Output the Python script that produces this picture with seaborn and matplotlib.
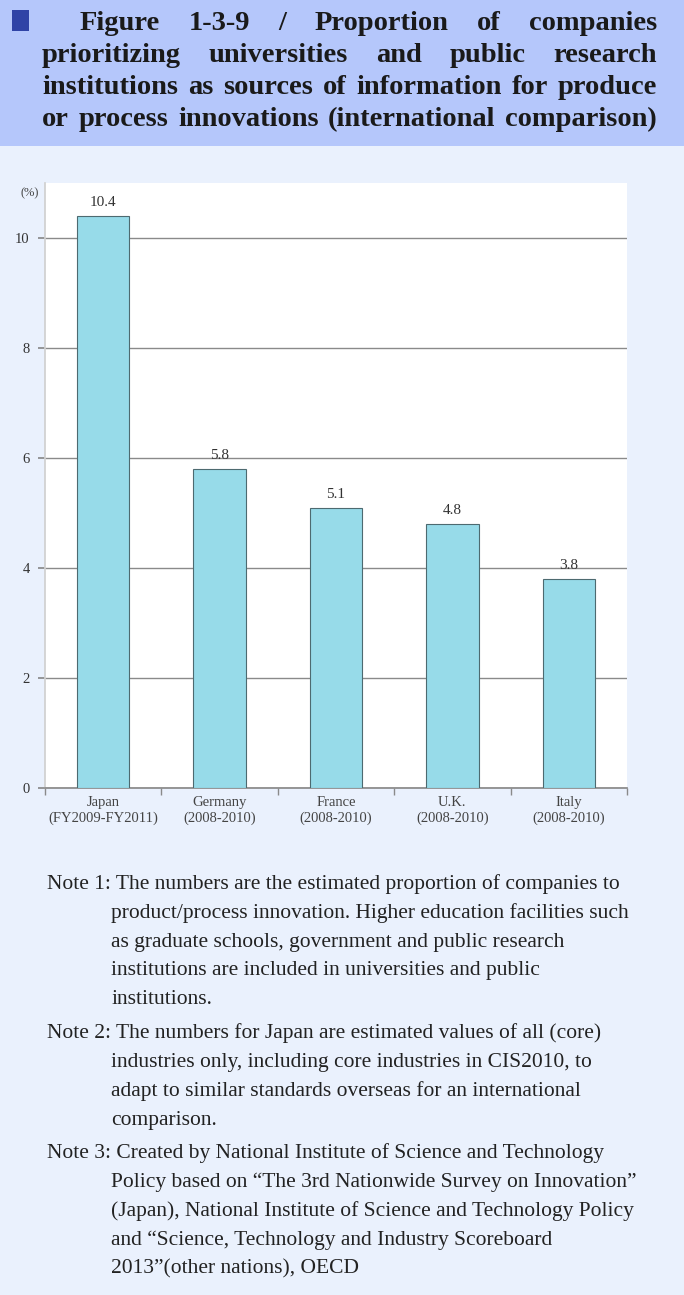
import matplotlib
matplotlib.use("Agg")
import matplotlib.pyplot as plt
import seaborn as sns
import pandas as pd
from matplotlib.patches import Rectangle

countries = ["Japan\n(FY2009-FY2011)", "Germany\n(2008-2010)", "France\n(2008-2010)",
             "U.K.\n(2008-2010)", "Italy\n(2008-2010)"]
shares = [10.4, 5.8, 5.1, 4.8, 3.8]
y_ticks = [0, 2, 4, 6, 8, 10]

title_lines = [
    ["Figure", "1-3-9", "/", "Proportion", "of", "companies"],
    ["prioritizing", "universities", "and", "public", "research"],
    ["institutions as sources of information for produce"],
    ["or process innovations (international comparison)"],
]

notes = [
    ("Note 1: ", ["The numbers are the estimated proportion of companies to",
                  "product/process innovation. Higher education facilities such",
                  "as graduate schools, government and public research",
                  "institutions are included in universities and public",
                  "institutions."]),
    ("Note 2: ", ["The numbers for Japan are estimated values of all (core)",
                  "industries only, including core industries in CIS2010, to",
                  "adapt to similar standards overseas for an international",
                  "comparison."]),
    ("Note 3: ", ["Created by National Institute of Science and Technology",
                  "Policy based on \u201cThe 3rd Nationwide Survey on Innovation\u201d",
                  "(Japan), National Institute of Science and Technology Policy",
                  "and \u201cScience, Technology and Industry Scoreboard",
                  "2013\u201d(other nations), OECD"]),
]

W, H = 684, 1295
BG = "#eaf1fd"
HEADER = "#b5c7fb"
BAR = "#97dbe9"
SERIF = ["Liberation Serif", "DejaVu Serif"]

sns.set_theme(style="white")
plt.rcParams["font.family"] = SERIF

fig = plt.figure(figsize=(W / 100, H / 100), dpi=100, facecolor=BG)


def fx(px):
    return px / W


def fy(py):
    return 1 - py / H


# header band
fig.patches.append(Rectangle((0, fy(146)), 1, 146 / H, transform=fig.transFigure,
                             facecolor=HEADER, edgecolor="none", zorder=0))
fig.patches.append(Rectangle((fx(12), fy(31)), 17 / W, 21 / H, transform=fig.transFigure,
                             facecolor="#2f43a6", edgecolor="none", zorder=1))

# justified title
fig.canvas.draw()
renderer = fig.canvas.get_renderer()
title_kw = dict(fontsize=20.5, fontweight="bold", color="#1a1a1a", va="baseline")
line_specs = [(80, 30), (42, 62), (42, 94), (42, 126)]
right_px = 657
for words, (x0, yb) in zip(title_lines, line_specs):
    if len(words) == 1:
        words = words[0].split(" ")
    arts = [fig.text(0, fy(yb), w, **title_kw) for w in words]
    widths = [a.get_window_extent(renderer).width for a in arts]
    gap = (right_px - x0 - sum(widths)) / (len(words) - 1)
    x = x0
    for a, wd in zip(arts, widths):
        a.set_x(fx(x))
        x += wd + gap

# chart
ax = fig.add_axes([fx(45), fy(788), fx(627) - fx(45), (788 - 183) / H])
ax.set_facecolor("white")
df = pd.DataFrame({"country": countries, "share": shares})
sns.barplot(data=df, x="country", y="share", color=BAR, saturation=1,
            edgecolor="#4d6a70", linewidth=0.8, width=0.45, ax=ax, zorder=3)
ax.set_xlim(-0.5, 4.5)
ax.set_ylim(0, 11)
ax.set_yticks(y_ticks)
ax.set_yticklabels([str(v) for v in y_ticks])
ax.yaxis.grid(True, color="#8a8a8a", linewidth=1)
ax.set_axisbelow(True)
ax.set_xlabel("")
ax.set_ylabel("")
for s in ["top", "right"]:
    ax.spines[s].set_visible(False)
ax.spines["left"].set_color("#d0d0d0")
ax.spines["bottom"].set_color("#8a8a8a")
ax.tick_params(axis="y", length=5, color="#8a8a8a", labelsize=10.5, labelcolor="#333333", pad=6,
               left=True, direction="out")
ax.tick_params(axis="x", which="major", length=0, labelsize=10.5, labelcolor="#444444", pad=6)
ax.set_xticks([-0.5, 0.5, 1.5, 2.5, 3.5, 4.5], minor=True)
ax.tick_params(axis="x", which="minor", length=5, color="#8a8a8a", bottom=True, direction="out")
for lbl in ax.get_xticklabels():
    lbl.set_linespacing(1.25)

for i, v in enumerate(shares):
    ax.annotate(f"{v:.1f}", (i, v), xytext=(0, 5), textcoords="offset points",
                ha="center", va="bottom", fontsize=11, color="#333333")

fig.text(fx(30), fy(193), "(%)", fontsize=9, color="#444444", ha="center", va="center")

# notes
note_kw = dict(fontsize=15.5, color="#222222", va="center")
y = 884
for label, lines in notes:
    fig.text(fx(47), fy(y), label + lines[0], **note_kw)
    y += 29
    for ln in lines[1:]:
        fig.text(fx(111), fy(y), ln, **note_kw)
        y += 29
    y += 4

fig.savefig("out.png", dpi=100, facecolor=BG)
